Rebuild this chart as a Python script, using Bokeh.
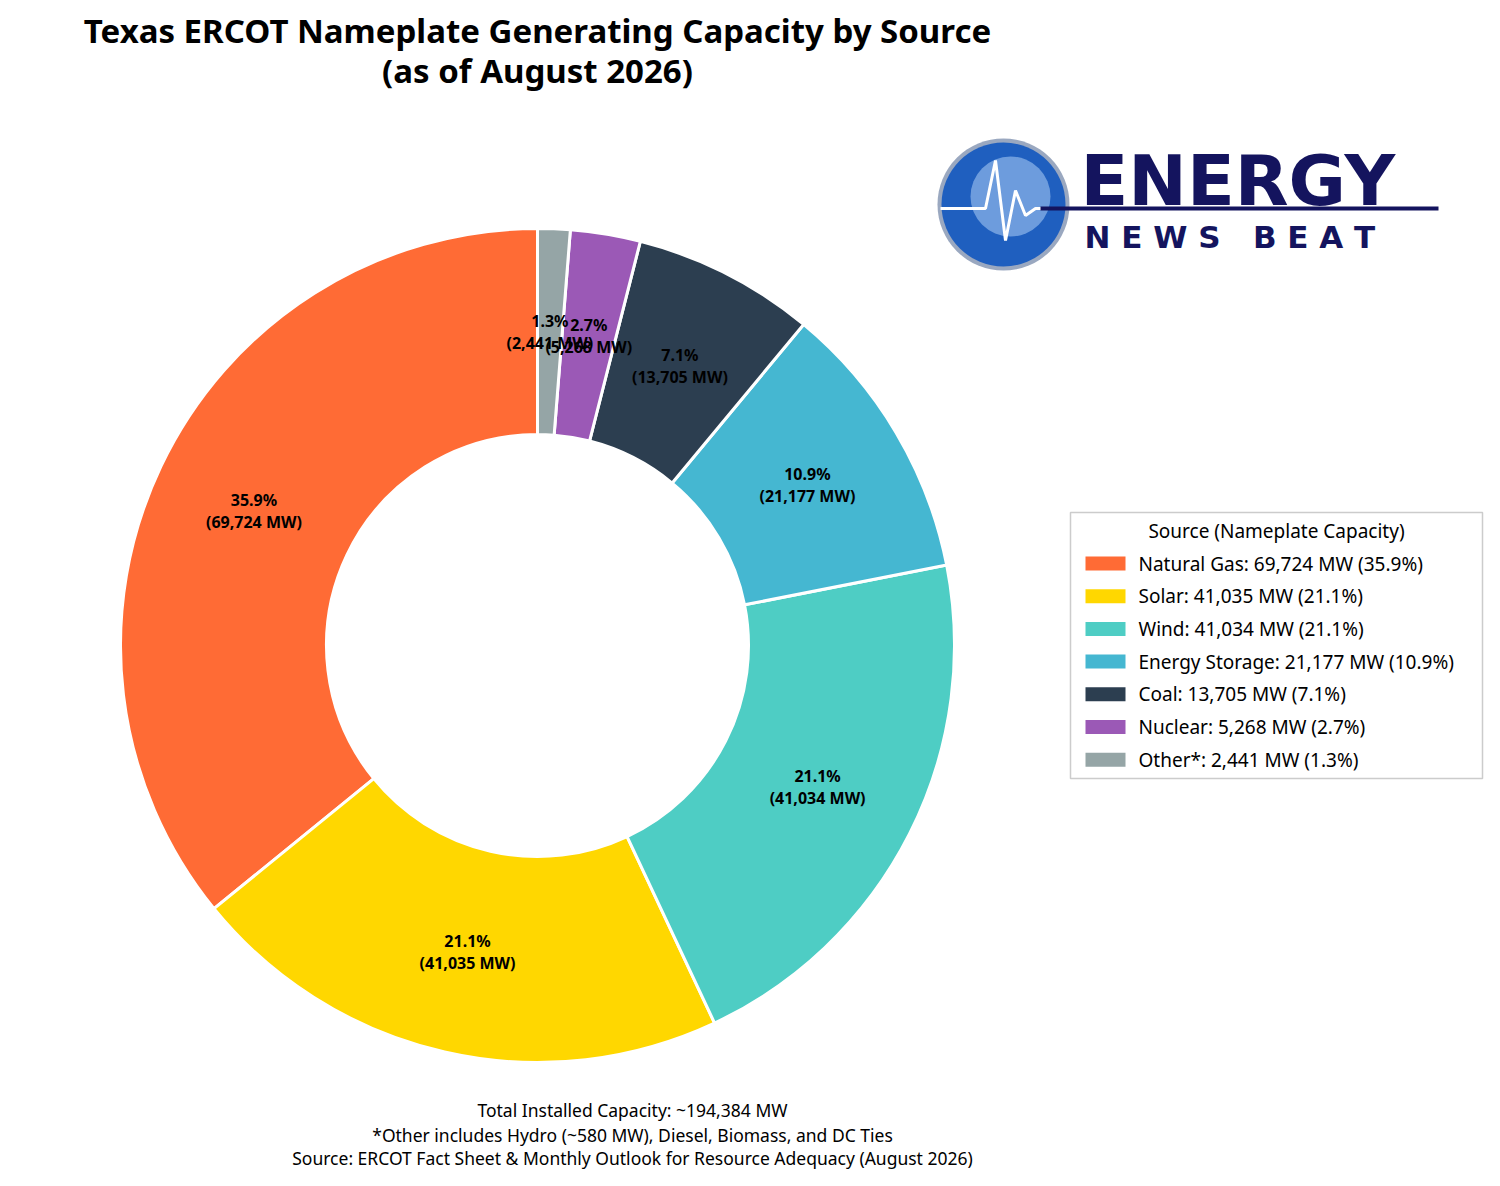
import math
from bokeh.plotting import figure
from bokeh.models import Range1d, ColumnDataSource
from bokeh.core.properties import value
from bokeh.embed import file_html
from bokeh.resources import INLINE

sources = ["Natural Gas", "Solar", "Wind", "Energy Storage", "Coal", "Nuclear", "Other*"]
capacity_mw = [69724, 41035, 41034, 21177, 13705, 5268, 2441]
colors = ["#FF6B35", "#FFD700", "#4ECDC4", "#45B7D1", "#2C3E50", "#9B59B6", "#95A5A6"]

W, H = 1484, 1172
def Y(py):
    return 1186 - py

p = figure(width=W, height=H, x_range=Range1d(0, W), y_range=Range1d(Y(H), Y(0)),
           output_backend="svg", toolbar_location=None, min_border=0)
p.axis.visible = False
p.grid.visible = False
p.outline_line_color = None

F = value("Noto Sans")
total = sum(capacity_mw)
pct = [v / total * 100 for v in capacity_mw]
cx, cy = 537, Y(645)
starts, ends, lx, ly, labels = [], [], [], [], []
a = math.pi / 2
for v, pc in zip(capacity_mw, pct):
    da = v / total * 2 * math.pi
    starts.append(a); ends.append(a + da)
    m = a + da / 2
    lx.append(cx + 314 * math.cos(m)); ly.append(cy + 314 * math.sin(m))
    labels.append(f"{pc:.1f}%\n({v:,} MW)")
    a += da
src = ColumnDataSource(dict(s=starts, e=ends, c=colors, lx=lx, ly=ly, t=labels))
p.annular_wedge(x=cx, y=cy, inner_radius=211, outer_radius=417, start_angle="s", end_angle="e",
                direction="anticlock", fill_color="c", line_color="white", line_width=3, source=src)
p.text(x="lx", y="ly", text="t", source=src, text_align="center", text_baseline="middle",
       text_font=F, text_font_style="bold", text_font_size="16px", text_line_height=1.0)

# title
p.text(x=[537, 537], y=[Y(30), Y(70)], text=["Texas ERCOT Nameplate Generating Capacity by Source", "(as of August 2026)"],
       text_align="center", text_baseline="middle", text_font=F, text_font_style="bold", text_font_size="33px")

# footer
p.text(x=[632] * 3, y=[Y(1109), Y(1134), Y(1157)],
       text=["Total Installed Capacity: ~194,384 MW", "*Other includes Hydro (~580 MW), Diesel, Biomass, and DC Ties",
             "Source: ERCOT Fact Sheet & Monthly Outlook for Resource Adequacy (August 2026)"],
       text_align="center", text_baseline="middle", text_font=F, text_font_size="17.5px")

# legend
p.quad(left=1070, right=1482, top=Y(512), bottom=Y(778), fill_color="white", line_color="#cccccc", line_width=1.5)
p.text(x=[1276], y=[Y(530)], text=["Source (Nameplate Capacity)"], text_align="center", text_baseline="middle",
       text_font=F, text_font_size="19px")
ey = [Y(563 + 32.7 * i) for i in range(len(sources))]
p.quad(left=1085, right=1125, top=[y + 7 for y in ey], bottom=[y - 7 for y in ey], fill_color=colors, line_color=None)
p.text(x=[1138] * len(sources), y=ey,
       text=[f"{s}: {v:,} MW ({pc:.1f}%)" for s, v, pc in zip(sources, capacity_mw, pct)],
       text_baseline="middle", text_font=F, text_font_size="19px")

# logo
p.circle(x=[1003], y=[Y(204)], radius=66, fill_color="#9aa8c0", line_color=None)
p.circle(x=[1003], y=[Y(204)], radius=62, fill_color="#1f5fbf", line_color=None)
p.circle(x=[1010], y=[Y(196)], radius=40, fill_color="#8fb6ea", line_color=None, fill_alpha=0.7)
p.line(x=[940, 985, 995, 1005, 1015, 1025, 1035, 1438], y=[Y(208), Y(208), Y(160), Y(240), Y(190), Y(215), Y(208), Y(208)],
       line_color="white", line_width=3)
p.line(x=[1040, 1438], y=[Y(208), Y(208)], line_color="#14145e", line_width=4)
p.text(x=[1080], y=[Y(180)], text=["ENERGY"], text_baseline="middle", text_font=value("DejaVu Sans"),
       text_font_style="bold", text_font_size="70px", text_color="#14145e")
nb = "\u00a0"
p.text(x=[1084], y=[Y(236)], text=[f"N{nb}E{nb}W{nb}S{nb}{nb}{nb}B{nb}E{nb}A{nb}T"], text_baseline="middle",
       text_font=value("DejaVu Sans"), text_font_style="bold", text_font_size="31px", text_color="#14145e")

open("out.html", "w").write(file_html(p, INLINE))
